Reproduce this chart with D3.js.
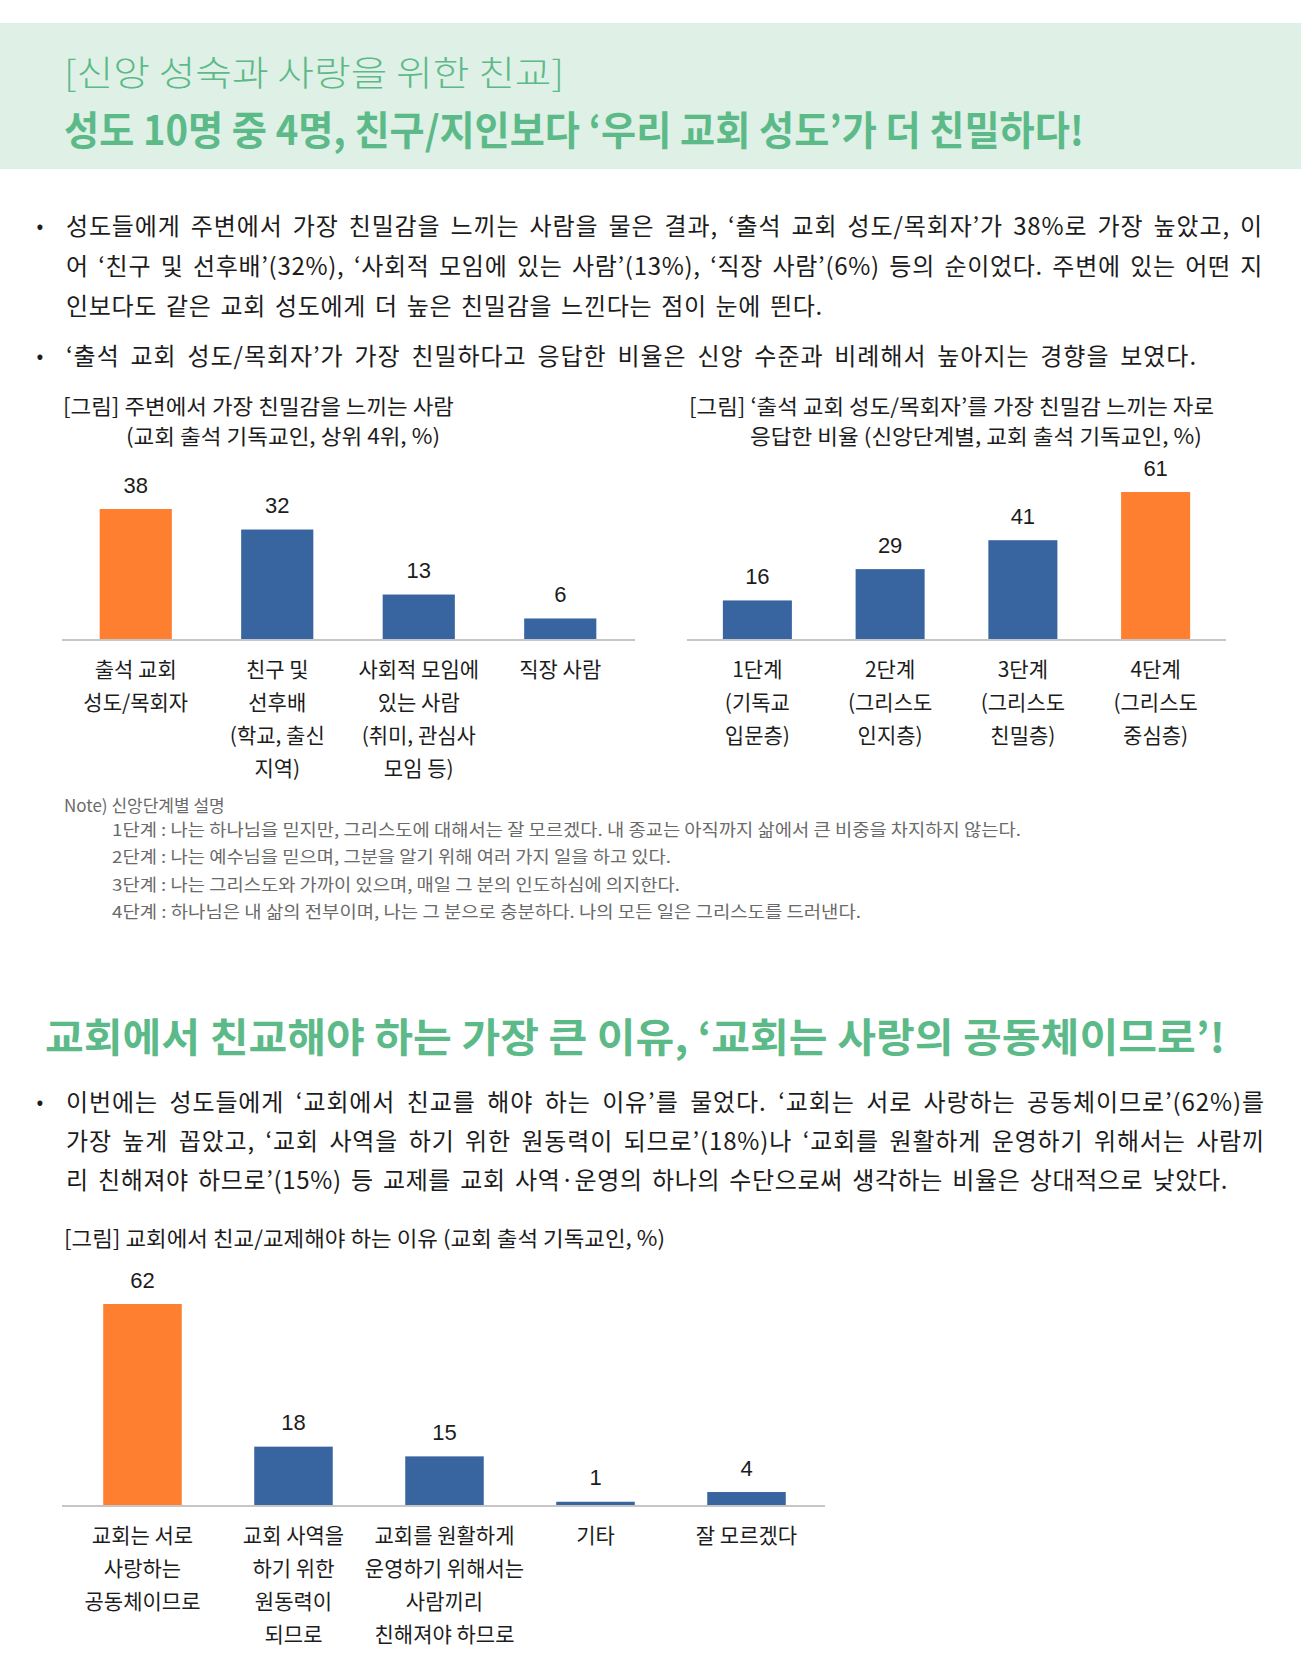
<!DOCTYPE html>
<html>
<head>
<meta charset="utf-8">
<script src="https://cdn.jsdelivr.net/npm/d3@7"></script>
<style>
  body { margin: 0; background: #fff; }
  svg text { font-family: "Noto Sans CJK KR", "Noto Sans", sans-serif; }
</style>
</head>
<body>
<svg id="page"></svg>
<script>
// ---- données ----
const headTitle = "[신앙 성숙과 사랑을 위한 친교]";
const headSub = "성도 10명 중 4명, 친구/지인보다 ‘우리 교회 성도’가 더 친밀하다!";

const para1 = [
  "성도들에게 주변에서 가장 친밀감을 느끼는 사람을 물은 결과, ‘출석 교회 성도/목회자’가 38%로 가장 높았고, 이",
  "어 ‘친구 및 선후배’(32%), ‘사회적 모임에 있는 사람’(13%), ‘직장 사람’(6%) 등의 순이었다. 주변에 있는 어떤 지",
  "인보다도 같은 교회 성도에게 더 높은 친밀감을 느낀다는 점이 눈에 띈다."
];
const para2 = ["‘출석 교회 성도/목회자’가 가장 친밀하다고 응답한 비율은 신앙 수준과 비례해서 높아지는 경향을 보였다."];

const relTitle = ["[그림] 주변에서 가장 친밀감을 느끼는 사람", "(교회 출석 기독교인, 상위 4위, %)"];
const relCats = [
  ["출석 교회", "성도/목회자"],
  ["친구 및", "선후배", "(학교, 출신", "지역)"],
  ["사회적 모임에", "있는 사람", "(취미, 관심사", "모임 등)"],
  ["직장 사람"]
];
const relValues = [38, 32, 13, 6];
const relHighlight = 0;

const stageTitle = ["[그림] ‘출석 교회 성도/목회자’를 가장 친밀감 느끼는 자로", "응답한 비율 (신앙단계별, 교회 출석 기독교인, %)"];
const stageCats = [
  ["1단계", "(기독교", "입문층)"],
  ["2단계", "(그리스도", "인지층)"],
  ["3단계", "(그리스도", "친밀층)"],
  ["4단계", "(그리스도", "중심층)"]
];
const stageValues = [16, 29, 41, 61];
const stageHighlight = 3;

const noteHead = "Note) 신앙단계별 설명";
const noteLines = [
  "1단계 : 나는 하나님을 믿지만, 그리스도에 대해서는 잘 모르겠다. 내 종교는 아직까지 삶에서 큰 비중을 차지하지 않는다.",
  "2단계 : 나는 예수님을 믿으며, 그분을 알기 위해 여러 가지 일을 하고 있다.",
  "3단계 : 나는 그리스도와 가까이 있으며, 매일 그 분의 인도하심에 의지한다.",
  "4단계 : 하나님은 내 삶의 전부이며, 나는 그 분으로 충분하다. 나의 모든 일은 그리스도를 드러낸다."
];

const head2 = "교회에서 친교해야 하는 가장 큰 이유, ‘교회는 사랑의 공동체이므로’!";
const para3 = [
  "이번에는 성도들에게 ‘교회에서 친교를 해야 하는 이유’를 물었다. ‘교회는 서로 사랑하는 공동체이므로’(62%)를",
  "가장 높게 꼽았고, ‘교회 사역을 하기 위한 원동력이 되므로’(18%)나 ‘교회를 원활하게 운영하기 위해서는 사람끼",
  "리 친해져야 하므로’(15%) 등 교제를 교회 사역·운영의 하나의 수단으로써 생각하는 비율은 상대적으로 낮았다."
];

const reasonTitle = "[그림] 교회에서 친교/교제해야 하는 이유 (교회 출석 기독교인, %)";
const reasonCats = [
  ["교회는 서로", "사랑하는", "공동체이므로"],
  ["교회 사역을", "하기 위한", "원동력이", "되므로"],
  ["교회를 원활하게", "운영하기 위해서는", "사람끼리", "친해져야 하므로"],
  ["기타"],
  ["잘 모르겠다"]
];
const reasonValues = [62, 18, 15, 1, 4];
const reasonHighlight = 0;

// ---- styles ----
const GREEN = "#5cba88";
const ORANGE = "#fe7f30";
const BLUE = "#3865a0";
const AXIS = "#c6c6c6";
const INK = "#1c1c1c";

const W = 1301, H = 1668;
const svg = d3.select("#page").attr("width", W).attr("height", H);

// texte centré verticalement sur y ; len = largeur forcée (optionnelle)
function txt(x, y, s, size, opt) {
  opt = opt || {};
  const t = svg.append("text")
    .attr("x", x).attr("y", y)
    .attr("dominant-baseline", "central")
    .attr("text-anchor", opt.anchor || "start")
    .attr("fill", opt.fill || INK)
    .style("font-size", size + "px")
    .style("font-weight", opt.weight || 400)
    .text(s);
  if (opt.family) t.style("font-family", opt.family);
  if (opt.len) {
    t.attr("textLength", opt.len)
     .attr("lengthAdjust", opt.adjust || "spacingAndGlyphs");
  }
  return t;
}

// justification : moitié sur les lettres, moitié sur les espaces
function justify(t, target) {
  const nat = t.node().getComputedTextLength();
  const s = t.text();
  const n = s.length;
  const spaces = (s.match(/ /g) || []).length;
  const diff = target - nat;
  if (diff > 0 && spaces > 0) {
    const ls = diff * 0.5 / n;
    const ws = (diff - ls * n) / spaces;
    t.style("letter-spacing", ls + "px").style("word-spacing", ws + "px");
  } else if (diff < 0) {
    t.attr("textLength", target).attr("lengthAdjust", "spacingAndGlyphs");
  }
}

// bandeau du haut
svg.append("rect").attr("x", 0).attr("y", 23).attr("width", W).attr("height", 146).attr("fill", "#dff0e6");
txt(64, 70, headTitle, 35, {fill: GREEN, weight: 300, len: 500});
txt(64, 128, headSub, 40, {fill: GREEN, weight: 700, len: 1020});

// paragraphes
function paragraph(lines, ys, ends) {
  txt(40, ys[0], "•", 20, {anchor: "middle"});
  lines.forEach((l, i) => {
    const t = txt(66, ys[i], l, 24);
    justify(t, ends[i] - 66);
  });
}
paragraph(para1, [224, 264, 304], [1263, 1263, 823]);
paragraph(para2, [354], [1197]);

// graphique en barres générique
function barChart(cfg) {
  const x = d3.scaleBand()
    .domain(d3.range(cfg.values.length))
    .range(cfg.band)
    .paddingInner(cfg.pad)
    .paddingOuter(cfg.pad / 2);
  const y = d3.scaleLinear()
    .domain([0, cfg.max])
    .range([cfg.base, cfg.base - cfg.height]);

  const g = svg.append("g");
  g.selectAll("rect.bar")
    .data(cfg.values)
    .enter().append("rect")
    .attr("class", "bar")
    .attr("x", (d, i) => x(i))
    .attr("y", d => y(d))
    .attr("width", x.bandwidth())
    .attr("height", d => y(0) - y(d))
    .attr("fill", (d, i) => i === cfg.highlight ? ORANGE : BLUE);

  g.append("line")
    .attr("x1", cfg.axis[0]).attr("x2", cfg.axis[1])
    .attr("y1", cfg.base + 1).attr("y2", cfg.base + 1)
    .attr("stroke", AXIS).attr("stroke-width", 2);

  g.selectAll("text.val")
    .data(cfg.values)
    .enter().append("text")
    .attr("class", "val")
    .attr("x", (d, i) => x(i) + x.bandwidth() / 2)
    .attr("y", d => y(d) - 24)
    .attr("text-anchor", "middle")
    .attr("dominant-baseline", "central")
    .attr("fill", INK)
    .style("font-family", "'Liberation Sans', Arial, sans-serif")
    .style("font-size", "22px")
    .text(d => d);

  cfg.cats.forEach((lines, i) => {
    lines.forEach((l, j) => {
      txt(x(i) + x.bandwidth() / 2, cfg.base + 29 + j * 33, l, 21, {anchor: "middle"});
    });
  });
}

// graphique 1
txt(63, 405, relTitle[0], 21, {len: 391});
txt(126, 435, relTitle[1], 21, {len: 314});
barChart({
  values: relValues, cats: relCats, highlight: relHighlight,
  band: [65, 631], pad: 0.49, axis: [62, 635],
  base: 639, max: 38, height: 130
});

// graphique 2
txt(689, 405, stageTitle[0], 21, {len: 525});
txt(750, 435, stageTitle[1], 21, {len: 452});
barChart({
  values: stageValues, cats: stageCats, highlight: stageHighlight,
  band: [691, 1222], pad: 0.48, axis: [687, 1226],
  base: 639, max: 61, height: 147
});

// note
txt(64, 804, noteHead, 17, {fill: "#6a6a6a"});
const noteEnds = [1021, 671, 680, 861];
noteLines.forEach((l, i) => txt(112, 829 + i * 27.3, l, 16.5, {fill: "#6a6a6a", len: noteEnds[i] - 112}));

// deuxième partie
txt(45, 1035, head2, 40, {fill: GREEN, weight: 700, len: 1180});
paragraph(para3, [1100, 1139, 1178], [1265, 1265, 1228]);

txt(64, 1237, reasonTitle, 21, {len: 601});
barChart({
  values: reasonValues, cats: reasonCats, highlight: reasonHighlight,
  band: [67, 822], pad: 0.48, axis: [62, 825],
  base: 1505, max: 62, height: 201
});
</script>
</body>
</html>
